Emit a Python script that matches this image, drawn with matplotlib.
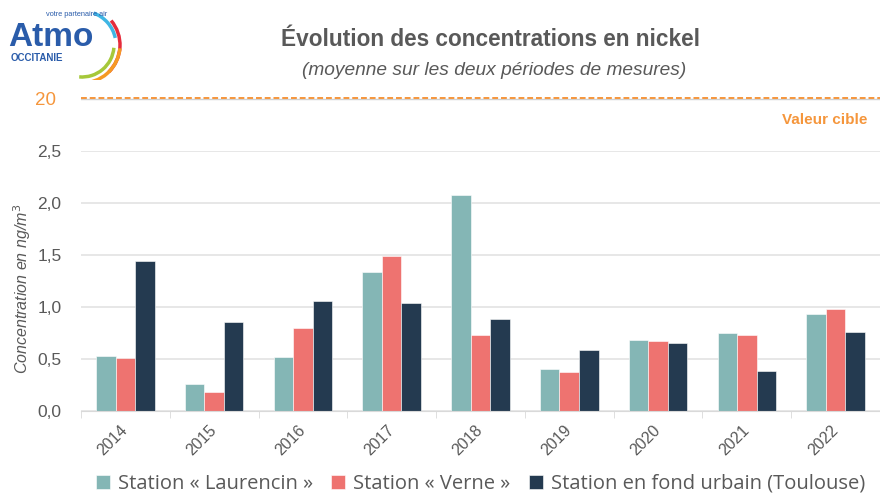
import numpy as np
import matplotlib.pyplot as plt
from matplotlib.patches import Arc

# data
annees = ['2014', '2015', '2016', '2017', '2018', '2019', '2020', '2021', '2022']
laurencin = [0.53, 0.26, 0.52, 1.33, 2.07, 0.40, 0.68, 0.75, 0.93]
verne = [0.51, 0.18, 0.80, 1.49, 0.73, 0.37, 0.67, 0.73, 0.98]
fond_urbain = [1.44, 0.85, 1.06, 1.04, 0.88, 0.59, 0.65, 0.38, 0.76]
series_noms = ['Station « Laurencin »', 'Station « Verne »',
               'Station en fond urbain (Toulouse)']
valeur_cible = 20
yticks = [0.0, 0.5, 1.0, 1.5, 2.0, 2.5]

couleurs = ['#84B6B5', '#EE7370', '#243A50']
gris = '#595959'
orange = '#F5963C'
bleu = '#2A5CAA'
police = 'Liberation Sans'

fig = plt.figure(figsize=(8.8, 4.95), dpi=100)

# main chart
ax = fig.add_axes([0.092, 0.1697, 0.908, 0.526])
x = np.arange(len(annees))
w = 0.22
for i, (vals, c, n) in enumerate(zip([laurencin, verne, fond_urbain], couleurs, series_noms)):
    ax.bar(x + (i - 1) * w, vals, w, color=c, label=n, edgecolor='white', linewidth=0.4)

ax.set_xlim(-0.5, len(annees) - 0.5)
ax.set_ylim(0, 2.5)
ax.set_yticks(yticks)
ax.set_yticklabels([f'{v:.1f}'.replace('.', ',') for v in yticks],
                   fontsize=12.5, color=gris, family=police)
ax.yaxis.grid(True, color='#E3E3E3', linewidth=1.2)
ax.set_axisbelow(True)
for s in ['top', 'right', 'left']:
    ax.spines[s].set_visible(False)
ax.spines['bottom'].set_color('#D9D9D9')
ax.tick_params(axis='y', length=0, pad=14)
ax.set_xticks(x)
ax.set_xticklabels(annees, rotation=45, fontsize=11.5, color=gris, family=police,
                   ha='right', va='center', rotation_mode='anchor')
ax.tick_params(axis='x', length=0, pad=12)
ax.set_xticks(np.arange(-0.5, len(annees), 1), minor=True)
ax.tick_params(axis='x', which='minor', length=5, color='#D9D9D9')

ax.set_ylabel('Concentration en ng/m$^3$', fontsize=11.5, color=gris, style='italic',
              family=police)
ax.yaxis.set_label_coords(-0.06, 0.47)

# valeur cible strip
ax2 = fig.add_axes([0.092, 0.777, 0.908, 0.05])
ax2.set_xlim(0, 1)
ax2.set_ylim(19, 21)
ax2.axhline(valeur_cible - 0.1, color='#D0D0D0', linewidth=1, zorder=1)
ax2.axhline(valeur_cible, color=orange, linewidth=1.4, linestyle=(0, (3, 1.5)), zorder=2)
ax2.set_yticks([valeur_cible])
ax2.set_yticklabels([str(valeur_cible)], fontsize=13.5, color=orange, family=police)
ax2.tick_params(axis='y', length=0, pad=18)
ax2.set_xticks([])
for s in ax2.spines.values():
    s.set_visible(False)
ax2.patch.set_alpha(0)
fig.text(0.986, 0.757, 'Valeur cible', fontsize=11, color=orange, weight='bold',
         family=police, ha='right', va='center')

# titles
fig.text(0.557, 0.92, 'Évolution des concentrations en nickel', fontsize=16.3,
         color=gris, weight='bold', family=police, ha='center', va='center')
fig.text(0.561, 0.858, '(moyenne sur les deux périodes de mesures)', fontsize=13.8,
         color=gris, style='italic', family=police, ha='center', va='center')

# legend
leg = ax.legend(loc='upper center', bbox_to_anchor=(0.5, -0.21), ncol=3, frameon=False,
                handlelength=0.7, handleheight=0.7, handletextpad=0.4,
                columnspacing=0.9, labelcolor=gris, borderaxespad=0,
                prop={'family': 'Open Sans', 'size': 14.5})

# logo (1 unit = 1 pixel)
lg = fig.add_axes([0.0, 1 - 80 / 495, 140 / 880, 80 / 495])
lg.set_xlim(0, 140)
lg.set_ylim(0, 80)
lg.axis('off')
lg.text(8, 42, 'Atmo', fontsize=24, color=bleu, weight='bold', family=police,
        va='center', ha='left')
lg.text(46, 65, 'votre partenaire air', fontsize=5.3, color=bleu, family=police,
        va='center', ha='left')
lg.text(11, 22, 'OCCITANIE', fontsize=7, color=bleu, weight='bold', family=police,
        va='center', ha='left')
cx, cy = 82, 35
arcs = [('#3FB6E4', 34, 12, 70), ('#E52C3C', 38, -45, 40),
        ('#A6C83A', 32, -95, -5), ('#F59A23', 38, -92, -5)]
for c, r, t1, t2 in arcs:
    lg.add_patch(Arc((cx, cy), 2 * r, 2 * r, theta1=t1, theta2=t2, color=c, linewidth=2.5))

fig.savefig('out.png', dpi=100)
